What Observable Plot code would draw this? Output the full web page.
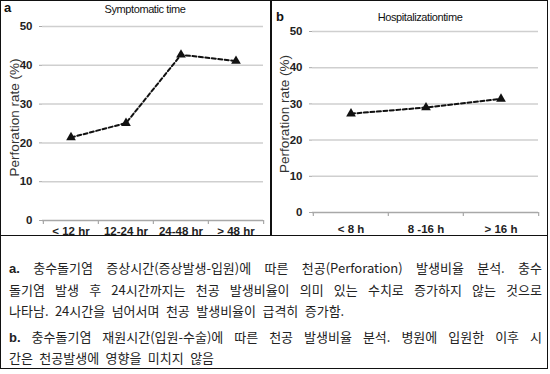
<!DOCTYPE html>
<html><head><meta charset="utf-8">
<script src="https://cdn.jsdelivr.net/npm/d3@7"></script>
<script src="https://cdn.jsdelivr.net/npm/@observablehq/plot@0.6"></script>
<style>
html,body{margin:0;padding:0;background:#fff;}
#wrap{position:relative;width:550px;height:374px;overflow:hidden;background:#fff;}
.abs{position:absolute;}
.ttl{font-family:"Liberation Sans Narrow","Liberation Sans",sans-serif;font-size:11px;letter-spacing:-0.4px;color:#111;white-space:nowrap;transform:translateX(-50%);}
.let{font-family:"Liberation Sans",Arial,sans-serif;font-weight:bold;font-size:13px;line-height:13px;color:#111;}
#cap{left:0;top:235px;width:546px;height:132px;border:1.5px solid #111;box-sizing:content-box;}
.cap{font-family:"Noto Sans CJK KR",sans-serif;font-size:13px;color:#222;line-height:21px;word-spacing:3.5px;}
.ln{white-space:nowrap;}
.j{text-align:justify;text-align-last:justify;}
.cap b{font-family:"Liberation Sans",Arial,sans-serif;font-weight:bold;}
</style>
</head><body>
<div id="wrap">
  <div class="abs" style="left:0;top:0;width:546px;height:235px;border:1.5px solid #111;border-bottom:none;"></div>
  <div class="abs" style="left:270px;top:0;width:1.5px;height:236px;background:#111;"></div>
  <div id="pa" class="abs" style="left:0;top:0;"></div>
  <div id="pb" class="abs" style="left:271px;top:0;"></div>
  <div class="abs let" style="left:4px;top:1px;">a</div>
  <div class="abs let" style="left:276px;top:10px;">b</div>
  <div id="ta" class="abs ttl" style="left:145px;top:3px;"></div>
  <div id="tb" class="abs ttl" style="left:420px;top:11px;"></div>
  <div id="cap" class="abs cap">
    <div style="position:absolute;left:8px;top:21px;width:533px;">
      <div id="c1" class="ln j"></div>
      <div id="c2" class="ln j"></div>
      <div id="c3" class="ln"></div>
      <div id="c4" class="ln j" style="margin-top:5px;"></div>
      <div id="c5" class="ln" style="line-height:19px;"></div>
    </div>
  </div>
</div>
<script>
// ---- data ----
const titleA = "Symptomatic time";
const titleB = "Hospitalizationtime";
const yLabel = "Perforation rate (%)";
const catsA = ["< 12 hr", "12-24 hr", "24-48 hr", "> 48 hr"];
const valsA = [21.4, 25.1, 42.7, 41.1];
const catsB = ["< 8 h", "8 -16 h", "> 16 h"];
const valsB = [27.3, 29.0, 31.4];
const yTicks = [0, 10, 20, 30, 40, 50];
const captionA = [
  "충수돌기염 증상시간(증상발생-입원)에 따른 천공(Perforation) 발생비율 분석. 충수",
  "돌기염 발생 후 24시간까지는 천공 발생비율이 의미 있는 수치로 증가하지 않는 것으로",
  "나타남. 24시간을 넘어서며 천공 발생비율이 급격히 증가함."
];
const captionB = [
  "충수돌기염 재원시간(입원-수술)에 따른 천공 발생비율 분석. 병원에 입원한 이후 시",
  "간은 천공발생에 영향을 미치지 않음"
];

document.getElementById("ta").textContent = titleA;
document.getElementById("tb").textContent = titleB;
document.getElementById("c1").innerHTML = "<b>a.</b> " + captionA[0];
document.getElementById("c2").textContent = captionA[1];
document.getElementById("c3").textContent = captionA[2];
document.getElementById("c4").innerHTML = "<b>b.</b> " + captionB[0];
document.getElementById("c5").textContent = captionB[1];

function panel(cats, vals, o) {
  const data = cats.map((c, i) => ({c, v: vals[i]}));
  const step = (o.width - o.ml - o.mr) / cats.length;
  return Plot.plot({
    width: o.width, height: o.height,
    marginLeft: o.ml, marginRight: o.mr, marginTop: o.mt, marginBottom: o.mb,
    style: {background: "transparent", overflow: "visible"},
    x: {type: "band", domain: cats, padding: 0},
    y: {domain: [0, 50], ticks: yTicks},
    marks: [
      Plot.gridY(yTicks.filter(t => t > 0), {stroke: "#cfcfcf", strokeOpacity: 1, strokeWidth: 1.5}),
      Plot.ruleY([0], {stroke: "#a8a8a8", strokeWidth: 1.5}),
      Plot.ruleX(cats, {x: d => d, y1: 0, y2: 0, insetBottom: -4, dx: -step / 2, stroke: "#a8a8a8", strokeWidth: 1.2}),
      Plot.ruleX([cats[cats.length - 1]], {x: d => d, y1: 0, y2: 0, insetBottom: -4, dx: step / 2, stroke: "#a8a8a8", strokeWidth: 1.2}),
      Plot.axisY({ticks: yTicks, tickSize: 3, tickPadding: 7, stroke: "#a8a8a8", label: null,
        fontSize: 11.5, fontWeight: "bold", fontFamily: "Liberation Sans Narrow, Liberation Sans, sans-serif", fill: "#222"}),
      Plot.axisX({tickSize: 0, tickPadding: o.xpad, label: null,
        fontSize: 11.5, fontWeight: "bold", fontFamily: "Liberation Sans Narrow, Liberation Sans, sans-serif", fill: "#222"}),
      Plot.text([yLabel], {frameAnchor: "left", dx: o.ldx, dy: o.ldy, rotate: -90, textAnchor: "middle",
        fontSize: 13.5, fontFamily: "Liberation Sans, Arial, sans-serif", fill: "#333", letterSpacing: 0.4}),
      Plot.line(data, {x: "c", y: "v", stroke: "#111", strokeWidth: 2, strokeDasharray: "4,2.5"}),
      Plot.dot(data, {x: "c", y: "v", symbol: "triangle", r: 3.6, fill: "#111", stroke: "none"})
    ]
  });
}

document.getElementById("pa").append(panel(catsA, valsA,
  {width: 271, height: 240, ml: 42, mr: 8, mt: 26, mb: 20, xpad: 6, ldx: -28, ldy: -6}));
document.getElementById("pb").append(panel(catsB, valsB,
  {width: 279, height: 240, ml: 41, mr: 12, mt: 31, mb: 28, xpad: 12, ldx: -28, ldy: -8}));
</script>
</body></html>
